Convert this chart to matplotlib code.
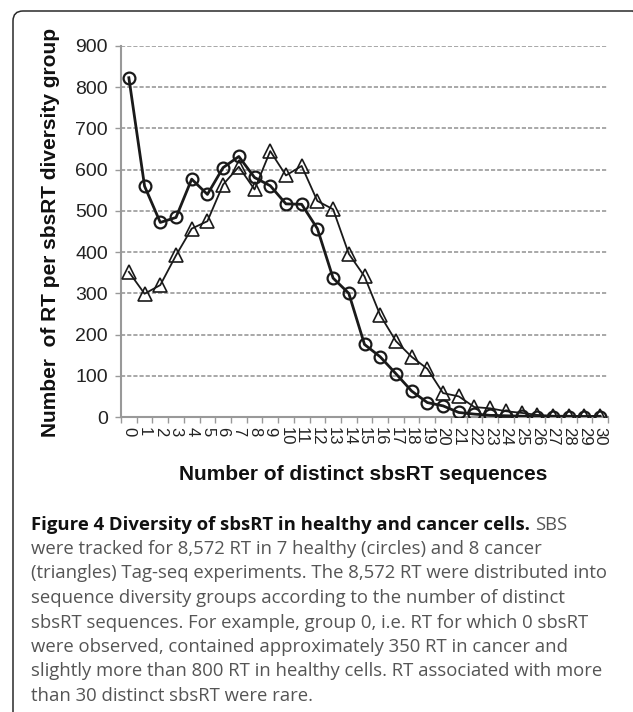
import numpy as np
import matplotlib
matplotlib.use("Agg")
import matplotlib.pyplot as plt
from matplotlib.patches import FancyBboxPatch
from matplotlib.transforms import IdentityTransform

# sbsRT diversity groups (number of distinct sbsRT sequences)
groups = list(range(31))
tick_labels = [str(g) for g in groups]
# RT per group, healthy cells (circles)
healthy = [823, 560, 472, 484, 577, 540, 605, 632, 581, 561,
           517, 516, 457, 337, 300, 176, 146, 105, 63, 35,
           27, 11, 7, 4, 3, 2, 1, 1, 1, 1, 1]
# RT per group, cancer cells (triangles)
cancer = [352, 299, 320, 392, 457, 475, 564, 607, 552, 645,
          586, 609, 524, 504, 396, 341, 247, 184, 146, 117,
          58, 50, 24, 21, 14, 10, 5, 3, 3, 2, 3]

caption_title = "Figure 4 Diversity of sbsRT in healthy and cancer cells."
caption_lines = [
    "SBS",
    "were tracked for 8,572 RT in 7 healthy (circles) and 8 cancer",
    "(triangles) Tag-seq experiments. The 8,572 RT were distributed into",
    "sequence diversity groups according to the number of distinct",
    "sbsRT sequences. For example, group 0, i.e. RT for which 0 sbsRT",
    "were observed, contained approximately 350 RT in cancer and",
    "slightly more than 800 RT in healthy cells. RT associated with more",
    "than 30 distinct sbsRT were rare.",
]

W, H = 633, 712
plt.rcParams['font.family'] = ['Liberation Sans', 'DejaVu Sans']
fig = plt.figure(figsize=(W / 100, H / 100), dpi=100)

# page frame with rounded corner (right and bottom edges fall outside the picture)
frame = FancyBboxPatch((13, -60), 630, H - 11 + 60, boxstyle="round,pad=0,rounding_size=10",
                       transform=IdentityTransform(), fill=False, lw=1.1, ec='#2a2a2a')
fig.add_artist(frame)

ax = fig.add_axes([121 / W, 1 - 417 / H, 487 / W, 371 / H])
ink = '#1a1a1a'
ax.plot(groups, cancer, '-', color=ink, lw=1.3, marker='^', ms=9.5,
        mfc='none', mec=ink, mew=1.2, zorder=3)
ax.plot(groups, healthy, '-', color=ink, lw=2.0, marker='o', ms=8.5,
        mfc='none', mec=ink, mew=1.6, zorder=4)

ax.set_xlim(-0.5, 30.5)
ax.set_ylim(0, 900)
ax.set_yticks(range(0, 901, 100))
ax.set_xticks(np.arange(-0.5, 31, 1))
ax.set_xticklabels([])
ax.set_xticks(groups, minor=True)
ax.set_xticklabels(tick_labels, minor=True, rotation=270, fontsize=12, color='#222222')
ax.tick_params(axis='x', which='major', length=4.5, width=1, color='#999999')
ax.tick_params(axis='x', which='minor', length=0, pad=7)
ax.tick_params(axis='y', length=4.5, width=1, color='#999999', labelsize=14,
               labelcolor='#222222', pad=5)
for side in ['top', 'right']:
    ax.spines[side].set_visible(False)
for side in ['left', 'bottom']:
    ax.spines[side].set_color('#999999')
    ax.spines[side].set_linewidth(1.5)
ax.yaxis.grid(True, color='#9a9a9a', lw=1.2, linestyle=(0, (2.5, 1.2)))
ax.set_axisbelow(True)

fig.text(51 / W, 1 - 232 / H, "Number  of RT per sbsRT diversity group", rotation=90,
         ha='center', va='center', fontsize=15, fontweight='bold', color='#111111')
fig.text(363.5 / W, 1 - 475 / H, "Number of distinct sbsRT sequences",
         ha='center', va='center', fontsize=15, fontweight='bold', color='#111111')

# caption
cap_font = ['Open Sans', 'DejaVu Sans']
cap_size = 13.3
x0 = 31 / W
base = 529.5
step = 24.5
renderer = fig.canvas.get_renderer()
t = fig.text(x0, 1 - base / H, caption_title, family=cap_font, fontsize=cap_size,
             fontweight='bold', color='#111111', va='baseline')
bb = t.get_window_extent(renderer=renderer)
fig.text((bb.x1 + 5) / W, 1 - base / H, caption_lines[0], family=cap_font, fontsize=cap_size,
         color='#555555', va='baseline')
for i, line in enumerate(caption_lines[1:], start=1):
    fig.text(x0, 1 - (base + i * step) / H, line, family=cap_font, fontsize=cap_size,
             color='#555555', va='baseline')

fig.savefig("out.png", dpi=100)
